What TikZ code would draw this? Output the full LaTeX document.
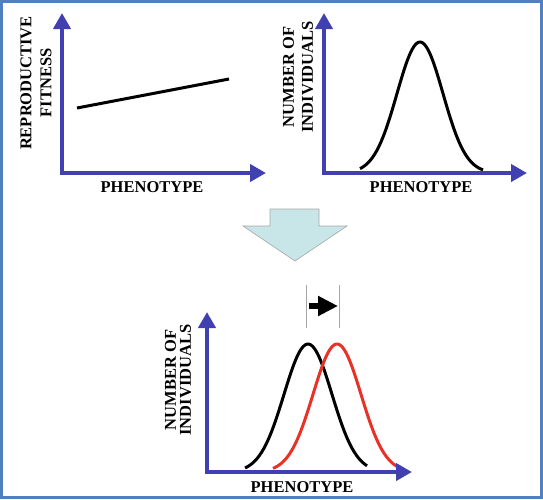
\documentclass[tikz,border=0pt]{standalone}
\usepackage{fontspec}
\setmainfont{Liberation Serif}
\usetikzlibrary{arrows.meta}
\definecolor{axisblue}{RGB}{64,64,176}
\definecolor{frameblue}{RGB}{79,129,189}
\definecolor{shiftred}{RGB}{232,50,40}
\definecolor{downfill}{RGB}{200,230,232}

\begin{document}
\begin{tikzpicture}[
    x=1pt, y=-1pt,
    axis/.style={axisblue, line width=4pt, line join=miter,
                 {Triangle[length=16pt,width=17pt]}-{Triangle[length=16pt,width=17pt]}},
    curve/.style={line width=3pt, smooth, samples=60},
    lbl/.style={font=\fontsize{16.5}{19}\selectfont\bfseries, align=center, inner sep=0pt}
  ]
    \useasboundingbox (0,0) rectangle (543,499);

    % Frame
    \draw[frameblue, line width=3pt] (1.5,1.5) rectangle (541.5,497.5);

    % Fitness panel
    \coordinate (o1) at (62,173);
    \draw[line width=3pt] (77,108) -- (229,79);
    \draw[axis] (62,13) -- (o1) -- (266,173);
    \node[lbl, rotate=90, font=\fontsize{16.5}{20}\selectfont\bfseries] (fitlbl) at (36,83)
      {REPRODUCTIVE\\FITNESS};
    \node[lbl] (ph1) at (152,187) {PHENOTYPE};

    % Distribution panel
    \coordinate (o2) at (324,173);
    \draw[curve] plot[domain=360:483] (\x, {173-131*exp(-((\x-420)^2)/(2*23^2))});
    \draw[axis] (324,13) -- (o2) -- (527,173);
    \node[lbl, rotate=90] (numlbl) at (298,77) {NUMBER OF\\INDIVIDUALS};
    \node[lbl] (ph2) at (421,187) {PHENOTYPE};

    % Down arrow
    \draw[fill=downfill, draw=gray!70, line width=0.6pt]
      (270,209) -- (319,209) -- (319,226) -- (347,226) -- (295,261)
      -- (243,226) -- (270,226) -- cycle;

    % Shifted panel
    \coordinate (o3) at (207,472);
    \draw[curve] plot[domain=245:367] (\x, {472-128*exp(-((\x-308)^2)/(2*24^2))});
    \draw[curve, shiftred] plot[domain=273:397] (\x, {472-128*exp(-((\x-337)^2)/(2*24^2))});
    \draw[axis] (207,312) -- (o3) -- (412,472);
    \node[lbl, rotate=90, font=\fontsize{16.5}{15}\selectfont\bfseries] (numlbl3) at (178,380)
      {NUMBER OF\\INDIVIDUALS};
    \node[lbl] (ph3) at (302,487) {PHENOTYPE};

    % Shift marker
    \coordinate (m1) at (306,285);
    \coordinate (m2) at (339,285);
    \draw[gray!70, line width=0.8pt] (m1) -- ++(0,43);
    \draw[gray!70, line width=0.8pt] (m2) -- ++(0,43);
    \draw[line width=6pt, -{Triangle[length=20pt,width=19pt]}] (309,306) -- (338,306);
  \end{tikzpicture}
\end{document}
